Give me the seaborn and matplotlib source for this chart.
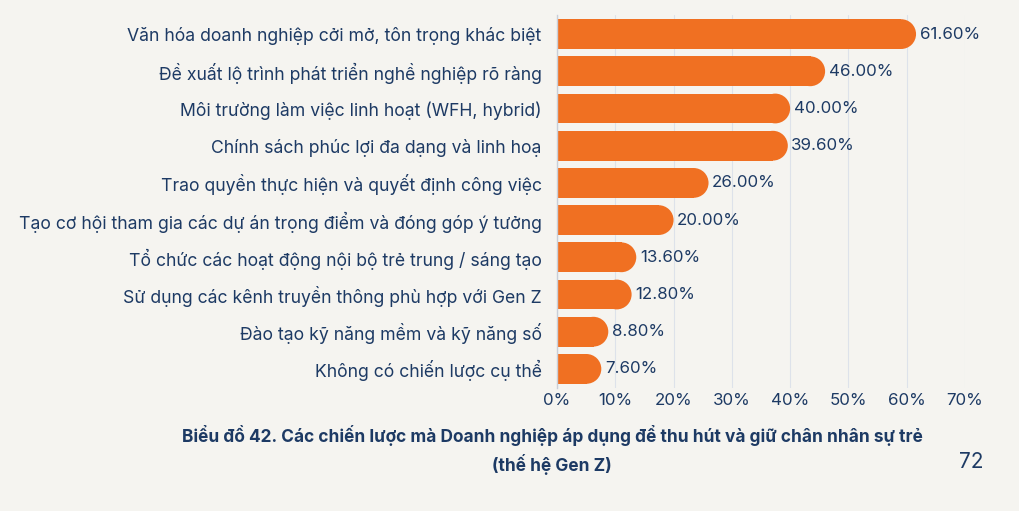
import matplotlib
matplotlib.use("Agg")
import matplotlib.pyplot as plt
from matplotlib.patches import Ellipse
import pandas as pd
import seaborn as sns

# --- data ---
strategies = [
    "Văn hóa doanh nghiệp cởi mở, tôn trọng khác biệt",
    "Đề xuất lộ trình phát triển nghề nghiệp rõ ràng",
    "Môi trường làm việc linh hoạt (WFH, hybrid)",
    "Chính sách phúc lợi đa dạng và linh hoạ",
    "Trao quyền thực hiện và quyết định công việc",
    "Tạo cơ hội tham gia các dự án trọng điểm và đóng góp ý tưởng",
    "Tổ chức các hoạt động nội bộ trẻ trung / sáng tạo",
    "Sử dụng các kênh truyền thông phù hợp với Gen Z",
    "Đào tạo kỹ năng mềm và kỹ năng số",
    "Không có chiến lược cụ thể",
]
shares = [61.6, 46.0, 40.0, 39.6, 26.0, 20.0, 13.6, 12.8, 8.8, 7.6]
x_ticks = [0, 10, 20, 30, 40, 50, 60, 70]

caption = ("Biểu đồ 42. Các chiến lược mà Doanh nghiệp áp dụng để thu hút và giữ chân nhân sự trẻ\n"
           "(thế hệ Gen Z)")
page_no = "72"

ORANGE = "#f07022"
NAVY = "#1d3a64"
BG = "#f5f4f0"

sns.set_theme(style="white")
plt.rcParams["font.family"] = ["Inter", "DejaVu Sans"]

df = pd.DataFrame({"strategy": strategies, "share": shares})

fig = plt.figure(figsize=(10.2, 5.11), dpi=100, facecolor=BG)
ax = fig.add_axes([557 / 1020, 1 - 387.5 / 511, 408 / 1020, 372 / 511])
ax.set_facecolor("none")

sns.barplot(data=df, x="share", y="strategy", color=ORANGE, width=0.8,
            saturation=1, linewidth=0, edgecolor="none", ax=ax, zorder=3)

ax.set_xlim(0, 70)
ax.set_ylim(9.5, -0.5)

# rounded right end: shorten each bar by the cap radius and add a half-disc cap
fig.canvas.draw()
px_x = ax.transData.transform((1, 0))[0] - ax.transData.transform((0, 0))[0]
px_y = abs(ax.transData.transform((0, 1))[1] - ax.transData.transform((0, 0))[1])
for bar in list(ax.patches):
    w, h = bar.get_width(), bar.get_height()
    r = h / 2 * px_y / px_x  # cap radius in x units
    bar.set_width(w - r + 0.05)
    cap = Ellipse((w - r, bar.get_y() + h / 2), 2 * r, h,
                  facecolor=ORANGE, edgecolor="none", linewidth=0, zorder=3)
    ax.add_patch(cap)

for i, v in enumerate(shares):
    ax.text(v + 0.6, i, f"{v:.2f}%", va="center", ha="left",
            fontsize=12.2, color=NAVY, zorder=4)

ax.set_xticks(x_ticks)
ax.set_xticklabels([f"{t}%" for t in x_ticks])
ax.tick_params(axis="x", length=0, pad=4, labelsize=12.2, labelcolor=NAVY)
ax.tick_params(axis="y", length=0, pad=11, labelsize=12.7, labelcolor=NAVY)
ax.set_xlabel("")
ax.set_ylabel("")

ax.grid(axis="x", color="#dde2ea", linewidth=0.8, zorder=0)
ax.grid(axis="y", visible=False)
for side in ["top", "right", "bottom"]:
    ax.spines[side].set_visible(False)
ax.spines["left"].set_color("#c9ced8")
ax.spines["left"].set_linewidth(1.0)
ax.spines["left"].set_zorder(5)

fig.text(552 / 1020, 1 - 450 / 511, caption, ha="center", va="center",
         fontsize=12.45, fontweight="bold", color=NAVY, linespacing=1.45)
fig.text(984 / 1020, 1 - 462 / 511, page_no, ha="right", va="center",
         fontsize=15, color=NAVY)

fig.savefig("out.png", dpi=100, facecolor=BG)
